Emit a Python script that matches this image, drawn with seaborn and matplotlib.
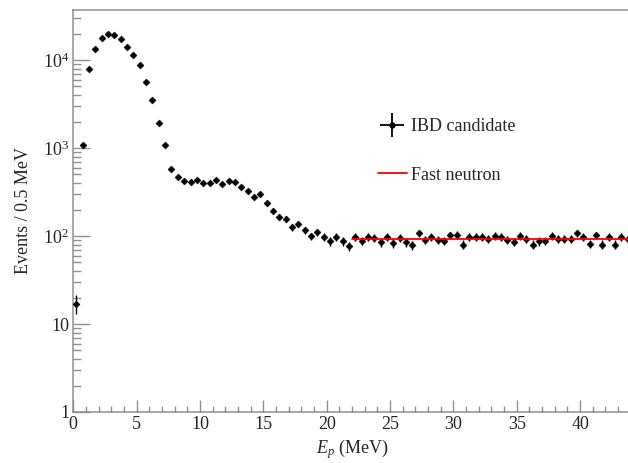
import numpy as np
import pandas as pd
import matplotlib
matplotlib.use("Agg")
import matplotlib.pyplot as plt
import seaborn as sns
from matplotlib.lines import Line2D
from matplotlib.legend_handler import HandlerTuple
from matplotlib.ticker import FixedLocator, FixedFormatter, MultipleLocator

# ---------------- data ----------------
bin_width = 0.5
counts = [17, 1070, 7900, 13200, 17900, 19900, 19400, 17400, 14100, 11500,
          8700, 5600, 3500, 1940, 1070, 580, 470, 420, 410, 433,
          405, 405, 430, 390, 420, 410, 357, 327, 280, 300,
          235, 194, 165, 158, 125, 137, 117, 99, 110, 97,
          87, 98, 87, 76, 98, 88, 97, 96, 85, 98,
          83, 96, 85, 78, 107, 90, 98, 90, 88, 102,
          103, 80, 98, 98, 97, 92, 100, 98, 91, 86,
          100, 92, 80, 87, 88, 100, 93, 93, 92, 107,
          98, 82, 102, 80, 98, 80, 98, 92]
energy = [bin_width * (i + 0.5) for i in range(len(counts))]
fn_x = [22.0, 44.0]
fn_y = [92.0, 92.0]
y_tick_vals = [1, 10, 100, 1000, 10000]
y_tick_labels = ["1", "10", r"$10^{2}$", r"$10^{3}$", r"$10^{4}$"]
x_tick_vals = [0, 5, 10, 15, 20, 25, 30, 35, 40]

df = pd.DataFrame({"E": energy, "N": counts})
df["err"] = np.sqrt(df["N"])
fn = pd.DataFrame({"E": fn_x, "N": fn_y})

# ---------------- style ----------------
sns.set_style("ticks")
plt.rcParams["font.family"] = ["Liberation Serif", "DejaVu Serif"]
plt.rcParams["mathtext.fontset"] = "custom"
plt.rcParams["mathtext.rm"] = "Liberation Serif"
plt.rcParams["mathtext.it"] = "Liberation Serif:italic"

fig = plt.figure(figsize=(6.28, 4.63), dpi=100)
W, H = 628, 463
x0, x1 = 73.3, 630.8
ytop, ybot = 10, 412
ax = fig.add_axes([x0 / W, 1 - ybot / H, (x1 - x0) / W, (ybot - ytop) / H])

ax.errorbar(df["E"], df["N"], yerr=df["err"], fmt="none", ecolor="black",
            elinewidth=1.0, capsize=0, zorder=2)
sns.scatterplot(data=df, x="E", y="N", ax=ax, marker="D", s=13, color="black",
                edgecolor="black", linewidth=0.3, zorder=3, legend=False)
sns.lineplot(data=fn, x="E", y="N", ax=ax, color="red", linewidth=1.3,
             zorder=4, legend=False)

ax.set_yscale("log")
ax.set_xlim(0, 44)
ax.set_ylim(1, 3.7e4)

ax.yaxis.set_major_locator(FixedLocator(y_tick_vals))
ax.yaxis.set_major_formatter(FixedFormatter(y_tick_labels))
minors = [m * 10 ** d for d in range(0, 5) for m in range(2, 10)]
ax.yaxis.set_minor_locator(FixedLocator(minors))
ax.yaxis.set_minor_formatter(FixedFormatter([""] * len(minors)))
ax.xaxis.set_major_locator(FixedLocator(x_tick_vals))
ax.xaxis.set_minor_locator(MultipleLocator(1))

axcol = "#8f8f8f"
for s in ax.spines.values():
    s.set_color(axcol)
    s.set_linewidth(1.1)
ax.tick_params(axis="both", which="both", direction="in", color=axcol,
               labelsize=13, top=False, right=False)
ax.tick_params(axis="y", which="major", length=12.5, width=1.0, pad=3)
ax.tick_params(axis="y", which="minor", length=6, width=1.0)
ax.tick_params(axis="x", which="major", length=9, width=1.0, pad=3)
ax.tick_params(axis="x", which="minor", length=4.5, width=1.0)

ax.set_xlabel(r"$E_p$ (MeV)", fontsize=13, labelpad=3)
ax.set_ylabel("Events / 0.5 MeV", fontsize=13, labelpad=8)

h_ibd = (Line2D([], [], marker="+", markersize=17, markeredgewidth=1.3,
                color="black", linestyle=""),
         Line2D([], [], marker="o", markersize=3.5, color="black", linestyle=""))
h_fn = Line2D([], [], color="red", linewidth=1.3)
leg = fig.legend([h_ibd, h_fn], ["IBD candidate", "Fast neutron"],
                 handler_map={tuple: HandlerTuple(ndivide=1)},
                 loc="upper left", bbox_to_anchor=(369 / W, 1 - 109 / H),
                 frameon=False, fontsize=13, handlelength=1.6,
                 handletextpad=0.25, labelspacing=1.75, borderpad=0)

fig.savefig("out.png", dpi=100)
